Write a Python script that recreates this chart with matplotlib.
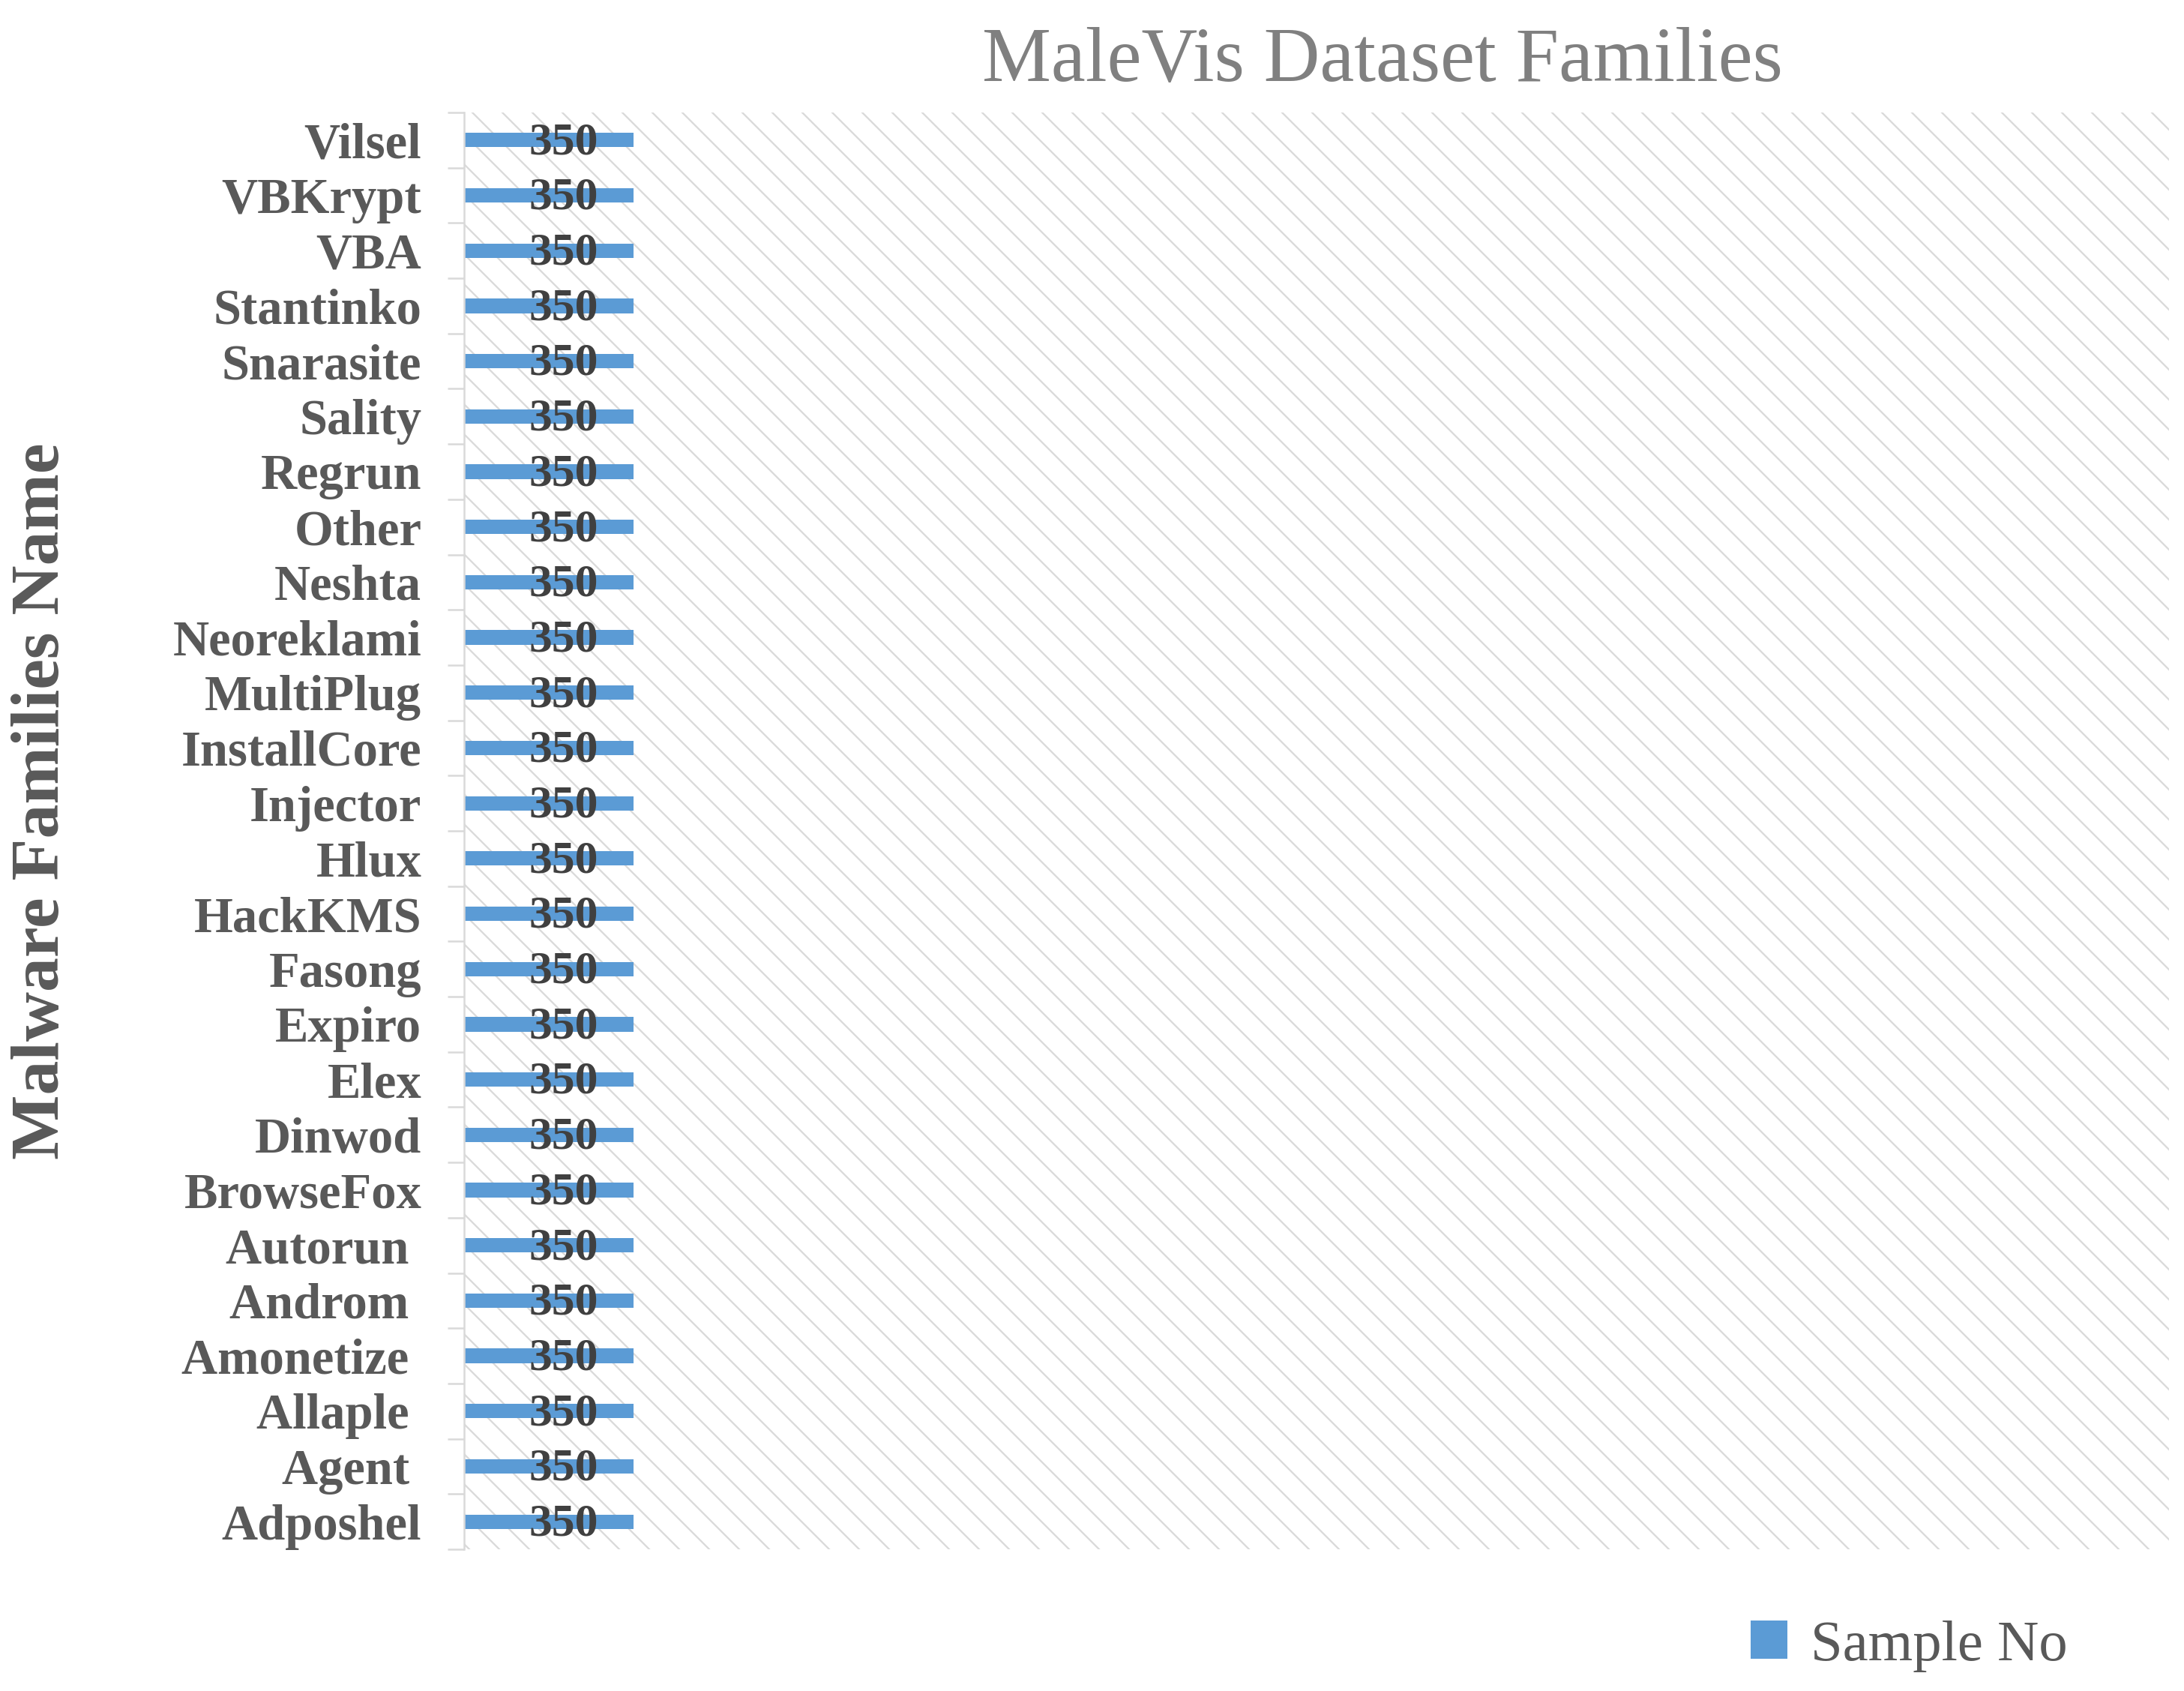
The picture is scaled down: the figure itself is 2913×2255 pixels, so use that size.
import matplotlib
matplotlib.use("Agg")
import matplotlib.pyplot as plt
from matplotlib.patches import Rectangle, Patch
import numpy as np

families = ["Adposhel", "Agent ", "Allaple ", "Amonetize ", "Androm ", "Autorun ",
            "BrowseFox", "Dinwod", "Elex", "Expiro", "Fasong", "HackKMS", "Hlux",
            "Injector", "InstallCore", "MultiPlug", "Neoreklami", "Neshta", "Other",
            "Regrun", "Sality", "Snarasite", "Stantinko", "VBA", "VBKrypt", "Vilsel"]
samples = [350] * 26

title = "MaleVis Dataset Families"
ylabel = "Malware Families Name"
legend_label = "Sample No"

DPI = 120
plt.rcParams['font.family'] = ['Liberation Serif', 'DejaVu Serif']
plt.rcParams['hatch.linewidth'] = 1.4

fig = plt.figure(figsize=(2913 / DPI, 2255 / DPI), dpi=DPI)
ax = fig.add_axes([619 / 2913, 1 - 2066 / 2255, (2893 - 619) / 2913, 1916 / 2255])

# hatched plot-area background
bg = Rectangle((0, 0), 1, 1, transform=ax.transAxes, facecolor='white',
               edgecolor='#dadada', hatch='\\', linewidth=0, zorder=0)
ax.add_patch(bg)

y = np.arange(len(families))
bar_color = '#5b9bd5'
ax.barh(y, samples, height=0.26, color=bar_color, zorder=2)

for yi, v in zip(y, samples):
    ax.annotate(str(v), (v / 2, yi), xytext=(12, -2), textcoords='offset points',
                ha='center', va='center', fontsize=37, fontweight='bold',
                color='#404040', zorder=3)

ax.set_xlim(0, 3520)
ax.set_ylim(-0.5, len(families) - 0.5)

ax.set_yticks(y)
ax.set_yticklabels(families, fontsize=40, fontweight='bold', color='#595959')
ax.tick_params(axis='y', which='major', length=0, pad=34)
ax.set_yticks(np.arange(len(families) + 1) - 0.5, minor=True)
ax.tick_params(axis='y', which='minor', length=13, width=1.5, color='#d9d9d9')
ax.set_xticks([])

for s in ['top', 'right', 'bottom']:
    ax.spines[s].set_visible(False)
ax.spines['left'].set_color('#d9d9d9')
ax.spines['left'].set_linewidth(1.5)
ax.spines['left'].set_zorder(4)

fig.text(1844 / 2913, 1 - 108 / 2255, title, ha='center', va='baseline',
         fontsize=62, color='#808080')
fig.text(56 / 2913, 1 - 1068 / 2255, ylabel, rotation=90, ha='center', va='center',
         fontsize=55, fontweight='bold', color='#595959')

handle = Patch(facecolor=bar_color, edgecolor='none')
fig.legend([handle], [legend_label], loc='center left',
           bbox_to_anchor=(2335 / 2913, 1 - 2195 / 2255), frameon=False,
           fontsize=46, labelcolor='#595959', handlelength=0.64, handleheight=0.65,
           handletextpad=0.4, borderpad=0, borderaxespad=0)

fig.savefig("out.png", dpi=DPI, facecolor='white')
